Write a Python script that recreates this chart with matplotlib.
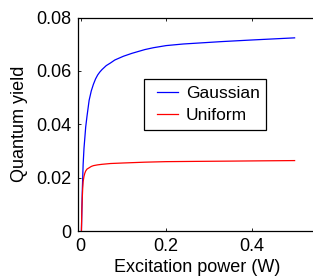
import matplotlib
matplotlib.use("Agg")
import matplotlib.pyplot as plt
from matplotlib.legend_handler import HandlerLine2D

# values
gauss_x = [0.002, 0.004, 0.006, 0.008, 0.01, 0.012, 0.015, 0.02, 0.025, 0.03,
           0.035, 0.04, 0.045, 0.05, 0.06, 0.07, 0.08, 0.1, 0.12, 0.15,
           0.17, 0.2, 0.24, 0.28, 0.33, 0.4, 0.45, 0.5]
gauss_y = [0.0, 0.015, 0.025, 0.031, 0.035, 0.039, 0.043, 0.049, 0.0525, 0.055,
           0.057, 0.0585, 0.0596, 0.0605, 0.062, 0.063, 0.0641, 0.0655, 0.0666, 0.068,
           0.0687, 0.0695, 0.0701, 0.0705, 0.071, 0.0716, 0.072, 0.0724]
unif_x = [0.002, 0.003, 0.004, 0.005, 0.006, 0.008, 0.01, 0.012, 0.015, 0.02,
          0.025, 0.03, 0.04, 0.05, 0.07, 0.1, 0.15, 0.2, 0.27, 0.35, 0.42, 0.5]
unif_y = [0.0, 0.008, 0.0125, 0.016, 0.0185, 0.0205, 0.0217, 0.0225, 0.0232, 0.0237,
          0.0242, 0.0245, 0.0248, 0.025, 0.0253, 0.0255, 0.0258, 0.026, 0.0261, 0.0262,
          0.0263, 0.0264]
xticks = [0, 0.2, 0.4]
yticks = [0, 0.02, 0.04, 0.06, 0.08]

plt.rcParams['font.family'] = ['Liberation Sans', 'DejaVu Sans']
plt.rcParams['font.size'] = 13

fig = plt.figure(figsize=(3.13, 2.79), dpi=100)
ax = fig.add_axes([0.2492, 0.172, 0.7604, 0.765])

ax.plot(gauss_x, gauss_y, color='blue', lw=0.9, label='Gaussian')
ax.plot(unif_x, unif_y, color='red', lw=0.9, label='Uniform')

ax.set_xlim(-0.006, 0.55)
ax.set_ylim(0, 0.08)
ax.set_xticks(xticks)
ax.set_xticklabels(['0', '0.2', '0.4'])
ax.set_yticks(yticks)
ax.set_yticklabels(['0', '0.02', '0.04', '0.06', '0.08'])
ax.tick_params(direction='in', length=2.5, width=0.6, top=True, right=True, pad=4.5)
ax.tick_params(axis='x', pad=5)
for sp in ax.spines.values():
    sp.set_linewidth(0.9)

ax.set_xlabel('Excitation power (W)', labelpad=3)
ax.set_ylabel('Quantum yield', labelpad=6)

leg = ax.legend(loc='upper left', bbox_to_anchor=(144 / 313, 1 - 79 / 279),
                bbox_transform=fig.transFigure, borderaxespad=0,
                fancybox=False, framealpha=1, edgecolor='black',
                handlelength=1.55, handletextpad=0.45, borderpad=0.4,
                labelspacing=0.4, fontsize=12.5,
                handler_map={plt.Line2D: HandlerLine2D(xpad=0.35)})
leg.get_frame().set_linewidth(0.9)

fig.savefig('out.png', dpi=100)
